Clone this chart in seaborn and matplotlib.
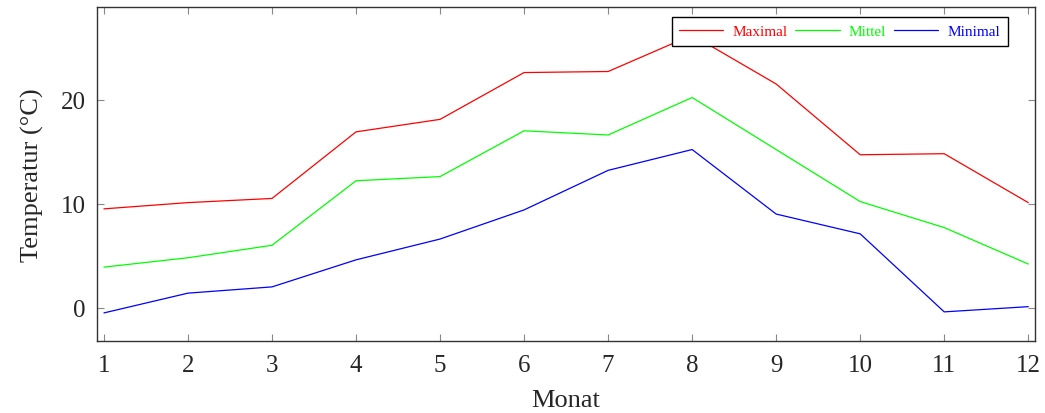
import pandas as pd
import matplotlib
matplotlib.use('Agg')
import matplotlib.pyplot as plt
import seaborn as sns

monate = list(range(1, 13))
maximal = [9.5, 10.1, 10.5, 16.9, 18.1, 22.6, 22.7, 26.2, 21.5, 14.7, 14.8, 10.1]
mittel = [3.9, 4.8, 6.0, 12.2, 12.6, 17.0, 16.6, 20.2, 15.2, 10.2, 7.7, 4.2]
minimal = [-0.5, 1.4, 2.0, 4.6, 6.6, 9.4, 13.2, 15.2, 9.0, 7.1, -0.4, 0.1]

df = pd.DataFrame({'Monat': monate, 'Maximal': maximal, 'Mittel': mittel, 'Minimal': minimal})
df_long = df.melt(id_vars='Monat', var_name='Reihe', value_name='Temperatur')

farben = {'Maximal': '#ff0000', 'Mittel': '#00ff00', 'Minimal': '#0000ff'}

sns.set_style('ticks')
plt.rcParams['font.family'] = ['Liberation Serif', 'DejaVu Serif']

fig = plt.figure(figsize=(10.45, 4.14), dpi=100)
ax = fig.add_axes([0.0928, 0.1739, 0.8976, 0.8068])

sns.lineplot(data=df_long, x='Monat', y='Temperatur', hue='Reihe', palette=farben,
             linewidth=0.9, ax=ax)

ax.set_xlim(0.917, 12.08)
ax.set_ylim(-3.2, 28.9)
ax.set_xticks(monate)
ax.set_yticks([0, 10, 20])
ax.tick_params(axis='both', direction='in', top=True, right=True, length=5,
               color='#888888', labelsize=18)
ax.tick_params(axis='x', pad=9)
ax.tick_params(axis='y', pad=8)
for s in ax.spines.values():
    s.set_color('#333333')
    s.set_linewidth(1.0)
ax.set_xlabel('Monat', fontsize=19, labelpad=10)
ax.set_ylabel('Temperatur (°C)', fontsize=19, labelpad=12)

leg = ax.legend(loc='upper right', bbox_to_anchor=(0.971, 0.97), ncol=3, fontsize=11,
                frameon=True, fancybox=False, edgecolor='black', framealpha=1,
                handlelength=2.9, columnspacing=0.5, handletextpad=0.6,
                borderpad=0.5, borderaxespad=0)
leg.get_frame().set_linewidth(1.0)
for text, line in zip(leg.get_texts(), leg.get_lines()):
    text.set_color(line.get_color())

plt.savefig('out.png', dpi=100, facecolor='white')
